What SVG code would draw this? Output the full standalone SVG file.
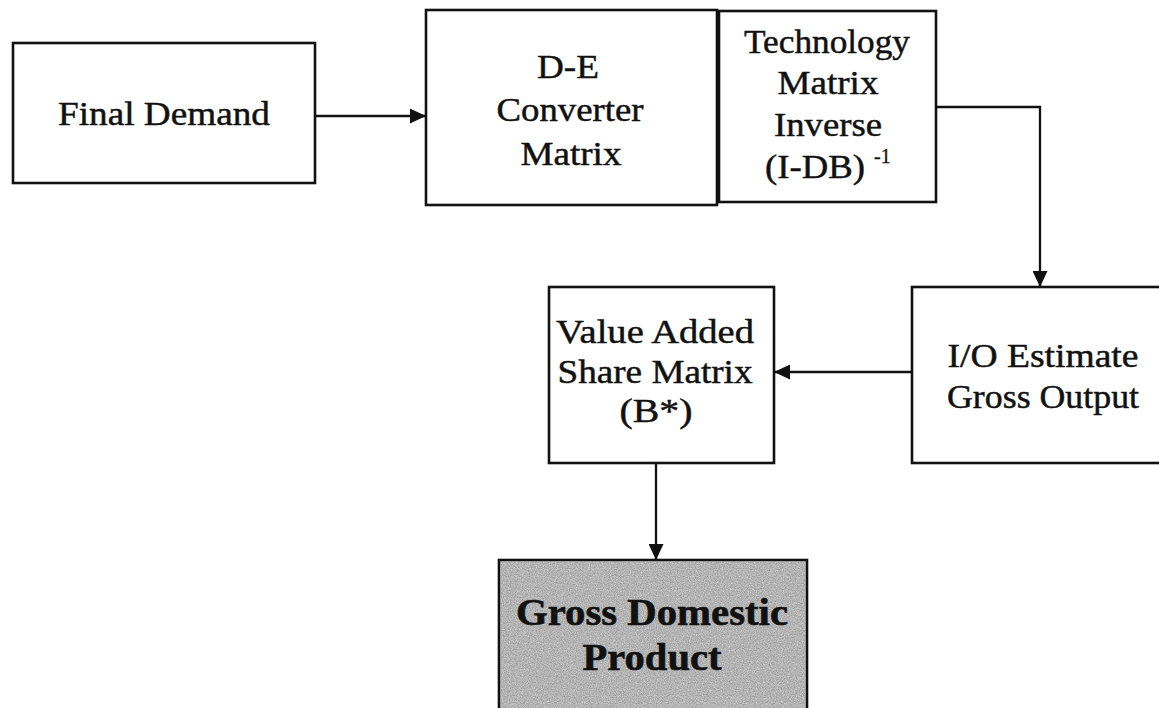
<svg xmlns="http://www.w3.org/2000/svg" width="1159" height="708" viewBox="0 0 1159 708">
  <style>
    .box { fill: #ffffff; stroke: #111111; stroke-width: 2.6; }
    .shaded { fill: #b4b4b4; stroke: #111111; stroke-width: 2.6; }
    .lbl { font-family: "Liberation Serif", "Times New Roman", serif; font-size: 33px; fill: #111111; stroke: #111111; stroke-width: 0.45; text-anchor: middle; }
    .sup { font-family: "Liberation Serif", "Times New Roman", serif; font-size: 20px; fill: #111111; stroke: #111111; stroke-width: 0.3; }
    .bold { font-family: "Liberation Serif", "Times New Roman", serif; font-size: 38px; font-weight: bold; fill: #111111; stroke: #111111; stroke-width: 0.6; text-anchor: middle; }
    .link { fill: none; stroke: #111111; stroke-width: 2.3; }
  </style>
  <defs>
    <marker id="arrow" markerUnits="userSpaceOnUse" markerWidth="17" markerHeight="15" refX="16" refY="7.5" orient="auto">
      <path d="M0,0 L16,7.5 L0,15 z" fill="#111111"/>
    </marker>
    <!-- speckled grey fill for the result box -->
    <filter id="grain" x="0" y="0" width="100%" height="100%" color-interpolation-filters="sRGB">
      <feTurbulence type="fractalNoise" baseFrequency="0.85" numOctaves="2" seed="7" result="noise"/>
      <feColorMatrix in="noise" type="matrix" values="0.35 0 0 0 0.53  0.35 0 0 0 0.53  0.35 0 0 0 0.53  0 0 0 0 1" result="grey"/>
      <feComposite in="grey" in2="SourceGraphic" operator="in"/>
    </filter>
  </defs>

  <rect width="1159" height="708" fill="#ffffff"/>

  <g id="final-demand">
    <rect class="box" x="13" y="43" width="302" height="140"/>
    <text class="lbl" x="164" y="125" textLength="212" lengthAdjust="spacingAndGlyphs">Final Demand</text>
  </g>

  <g id="de-converter">
    <rect class="box" x="426" y="10" width="291" height="195"/>
    <text class="lbl" x="568" y="78" textLength="62" lengthAdjust="spacingAndGlyphs">D-E</text>
    <text class="lbl" x="570" y="121" textLength="147" lengthAdjust="spacingAndGlyphs">Converter</text>
    <text class="lbl" x="571" y="165" textLength="101" lengthAdjust="spacingAndGlyphs">Matrix</text>
  </g>

  <g id="technology-inverse">
    <rect class="box" x="719" y="11" width="217" height="191"/>
    <text class="lbl" x="827" y="53" textLength="166" lengthAdjust="spacingAndGlyphs">Technology</text>
    <text class="lbl" x="828" y="94" textLength="101" lengthAdjust="spacingAndGlyphs">Matrix</text>
    <text class="lbl" x="828" y="136" textLength="108" lengthAdjust="spacingAndGlyphs">Inverse</text>
    <text class="lbl" x="815" y="178" textLength="100" lengthAdjust="spacingAndGlyphs">(I-DB)</text>
    <text class="sup" x="874" y="163">-1</text>
  </g>

  <g id="io-estimate">
    <rect class="box" x="912" y="287" width="262" height="176"/>
    <text class="lbl" x="1043" y="367" textLength="191" lengthAdjust="spacingAndGlyphs">I/O Estimate</text>
    <text class="lbl" x="1043" y="408" textLength="192" lengthAdjust="spacingAndGlyphs">Gross Output</text>
  </g>

  <g id="value-added">
    <rect class="box" x="549" y="287" width="225" height="176"/>
    <text class="lbl" x="655" y="343" textLength="198" lengthAdjust="spacingAndGlyphs">Value Added</text>
    <text class="lbl" x="655" y="383" textLength="195" lengthAdjust="spacingAndGlyphs">Share Matrix</text>
    <text class="lbl" x="656" y="422" textLength="73" lengthAdjust="spacingAndGlyphs">(B*)</text>
  </g>

  <g id="gdp">
    <rect class="shaded" x="499" y="560" width="308" height="160"/>
    <rect x="500.5" y="561.5" width="305" height="150" fill="#b4b4b4" filter="url(#grain)"/>
    <text class="bold" x="652" y="625" textLength="272" lengthAdjust="spacingAndGlyphs">Gross Domestic</text>
    <text class="bold" x="652" y="670" textLength="139" lengthAdjust="spacingAndGlyphs">Product</text>
  </g>

  <g id="connectors">
    <path class="link" d="M315,116 H426" marker-end="url(#arrow)"/>
    <path class="link" d="M936,107 H1040 V287" marker-end="url(#arrow)"/>
    <path class="link" d="M912,372 H774" marker-end="url(#arrow)"/>
    <path class="link" d="M656,463 V560" marker-end="url(#arrow)"/>
  </g>
</svg>
